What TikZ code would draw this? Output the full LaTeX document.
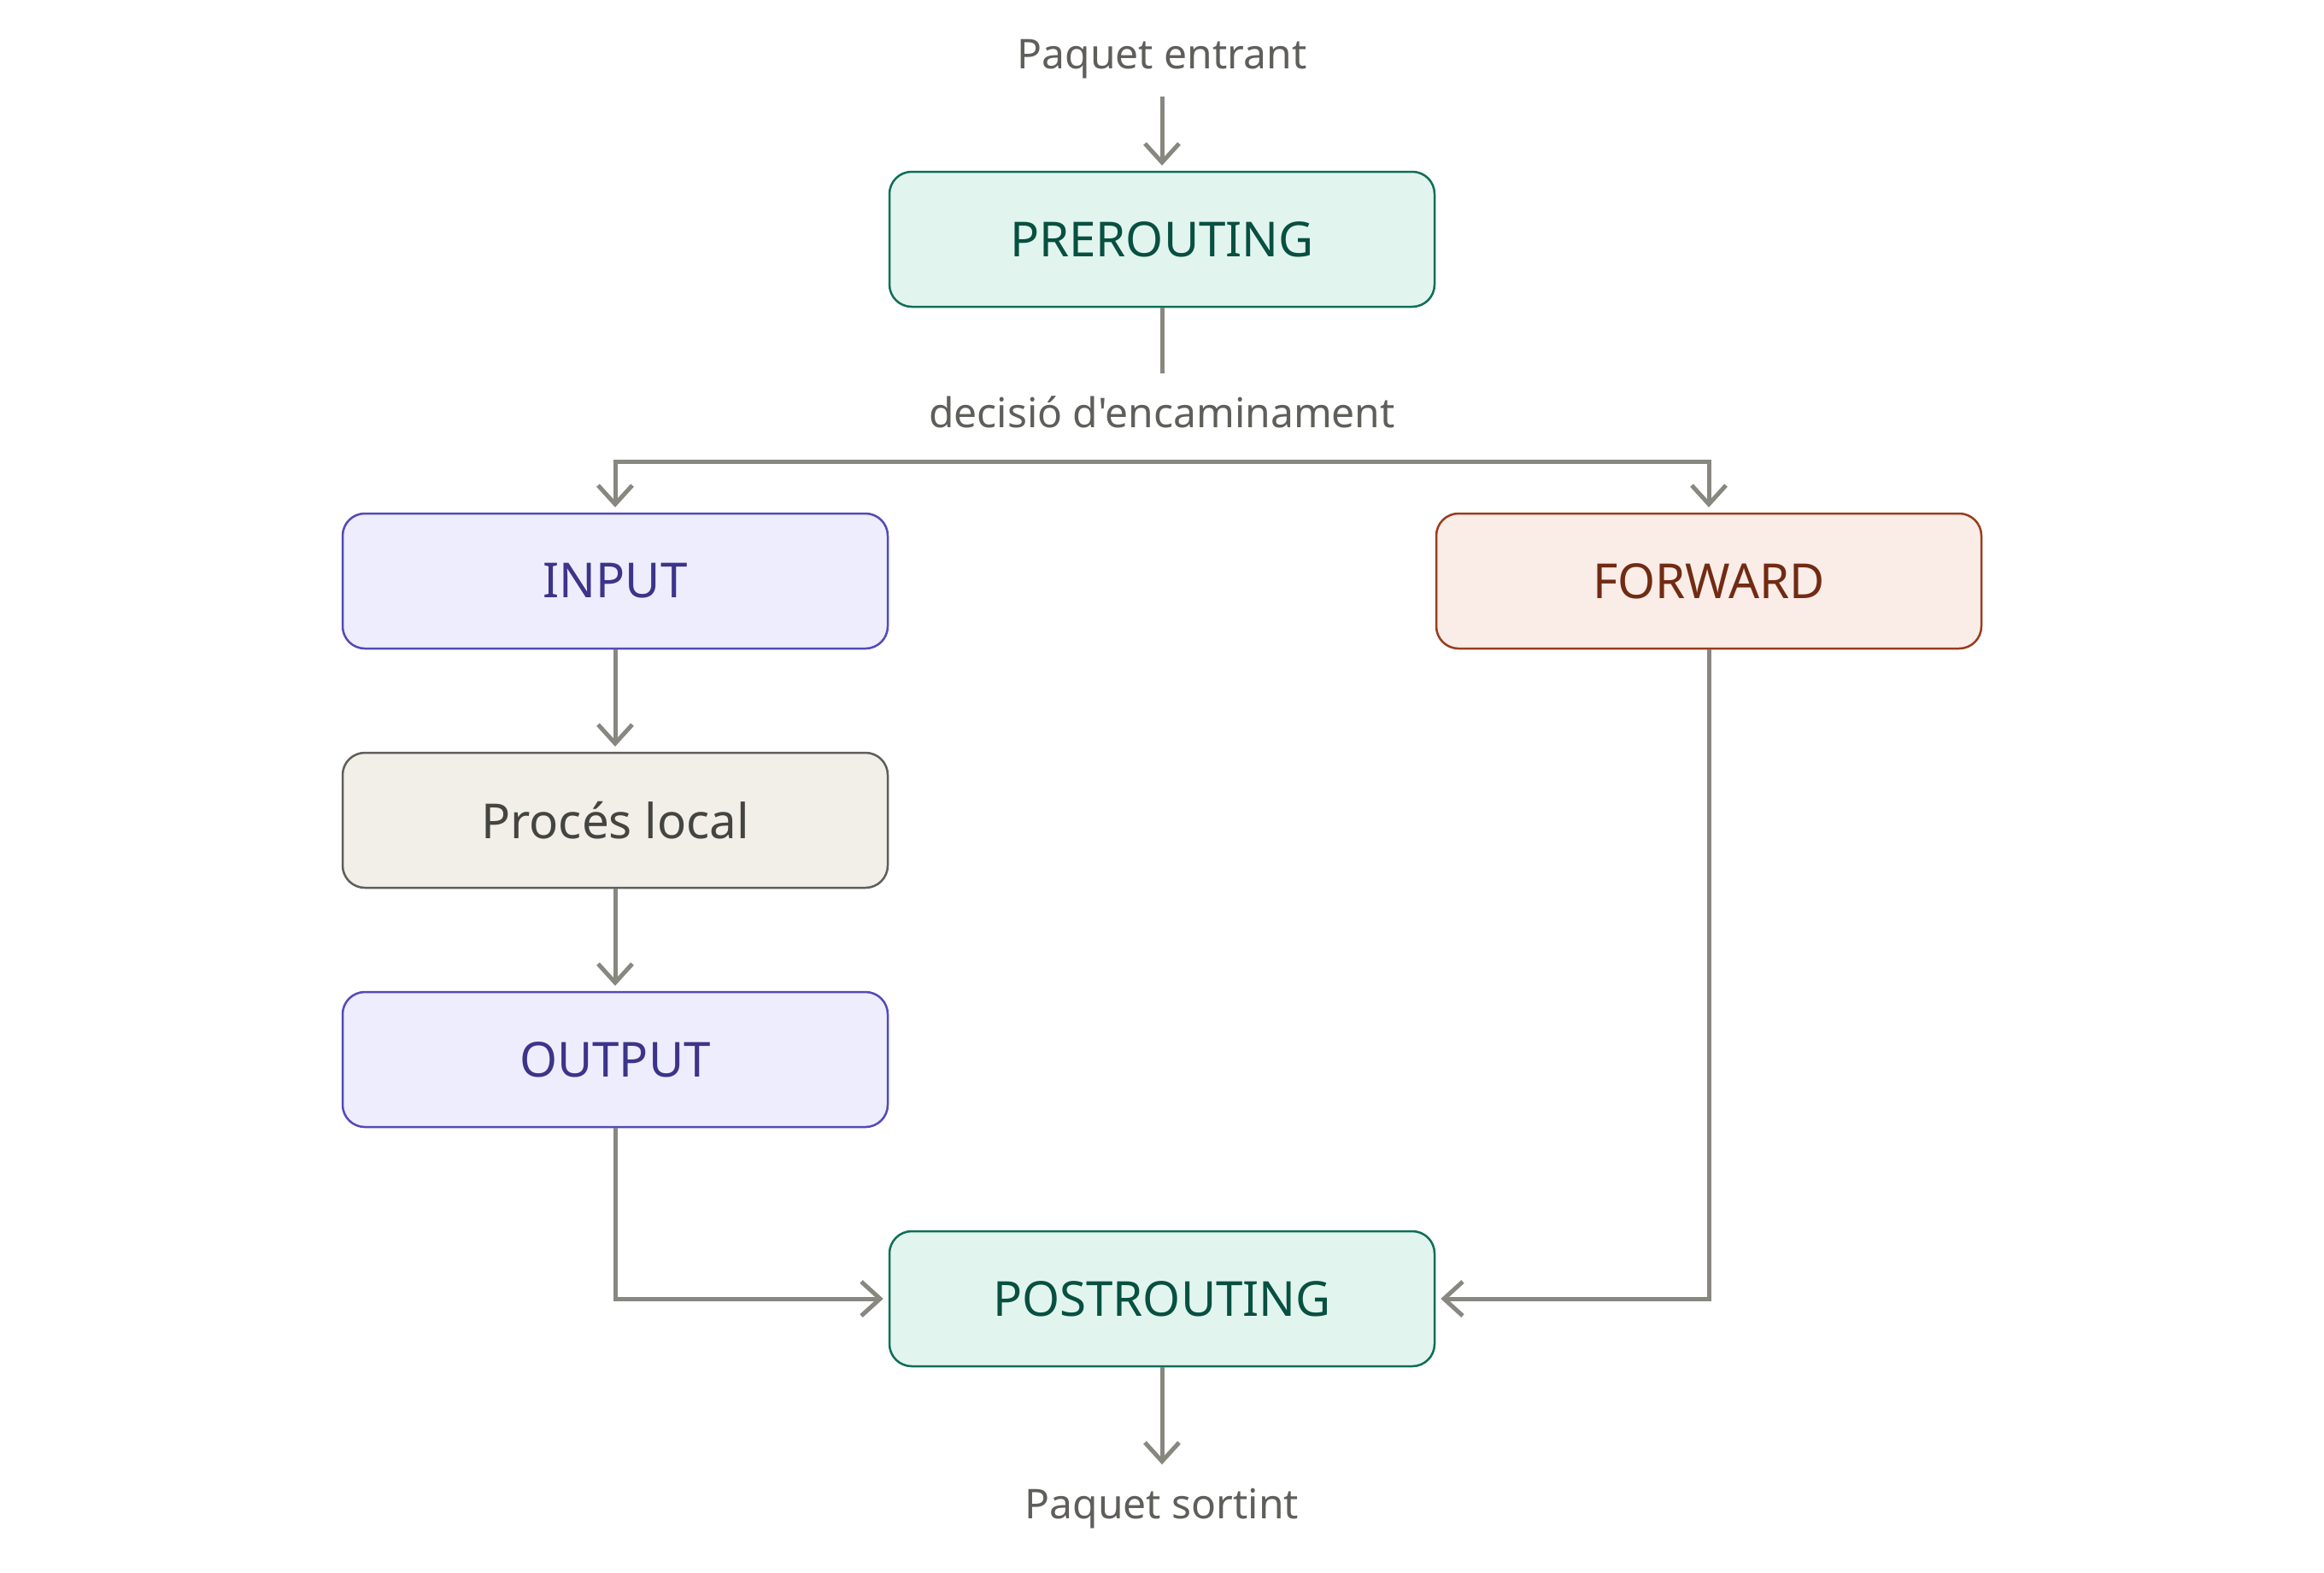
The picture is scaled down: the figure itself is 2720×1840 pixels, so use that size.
\documentclass[tikz,border=0pt]{standalone}
\usepackage{fontspec}
\setmainfont{Noto Sans}[Ligatures=TeXOff]
\usetikzlibrary{arrows.meta}
\definecolor{arrowc}{HTML}{888780}
\definecolor{txtgray}{HTML}{5F5E5A}
\definecolor{tealfill}{HTML}{E1F5EE}
\definecolor{tealdraw}{HTML}{0F6E56}
\definecolor{tealtext}{HTML}{085041}
\definecolor{purpfill}{HTML}{EEEDFE}
\definecolor{purpdraw}{HTML}{534AB7}
\definecolor{purptext}{HTML}{3C3489}
\definecolor{redfill}{HTML}{FAECE7}
\definecolor{reddraw}{HTML}{993C1D}
\definecolor{redtext}{HTML}{712B13}
\definecolor{grayfill}{HTML}{F1EFE8}
\definecolor{graydraw}{HTML}{5F5E5A}
\definecolor{graytext}{HTML}{444441}
\tikzset{
  chainbox/.style={rectangle, rounded corners=26pt, minimum width=638pt, minimum height=158pt,
    line width=2.5pt, inner sep=0pt, font=\fontsize{56.5}{66}\selectfont},
  teal/.style={chainbox, fill=tealfill, draw=tealdraw, text=tealtext},
  purp/.style={chainbox, fill=purpfill, draw=purpdraw, text=purptext},
  redb/.style={chainbox, fill=redfill, draw=reddraw, text=redtext},
  grayb/.style={chainbox, fill=grayfill, draw=graydraw, text=graytext},
  lbl/.style={font=\fontsize{48}{56}\selectfont, text=txtgray, inner sep=0pt},
  conn/.style={draw=arrowc, line width=5pt},
  arr/.style={conn, -{Straight Barb[length=22pt,width=40pt]}, shorten >=6pt},
}
\begin{document}
\begin{tikzpicture}[x=1pt,y=-1pt]
\useasboundingbox (0,0) rectangle (2720,1840);
\node[lbl] (in) at (1360,69) {Paquet entrant};
\node[teal] (pre) at (1360,280) {PREROUTING};
\node[lbl] (dec) at (1360,482) {decisió d'encaminament};
\node[purp] (input) at (720,680) {INPUT};
\node[redb] (fwd) at (2000,680) {FORWARD};
\node[grayb] (loc) at (720,960) {Procés local};
\node[purp] (out) at (720,1240) {OUTPUT};
\node[teal] (post) at (1360,1520) {POSTROUTING};
\node[lbl] (outp) at (1360,1766) {Paquet sortint};
\coordinate (inS) at (1360,113);
\coordinate (decT) at (1360,437);
\coordinate (split) at (1360,540);
\coordinate (outE) at (1360,1720);
\draw[arr] (inS) -- (pre.north);
\draw[conn] (pre.south) -- (decT);
\draw[arr] (split) -| (input.north);
\draw[arr] (split) -| (fwd.north);
\draw[arr] (input.south) -- (loc.north);
\draw[arr] (loc.south) -- (out.north);
\draw[arr] (out.south) |- (post.west);
\draw[arr] (fwd.south) |- (post.east);
\draw[arr] (post.south) -- (outE);
\end{tikzpicture}
\end{document}
